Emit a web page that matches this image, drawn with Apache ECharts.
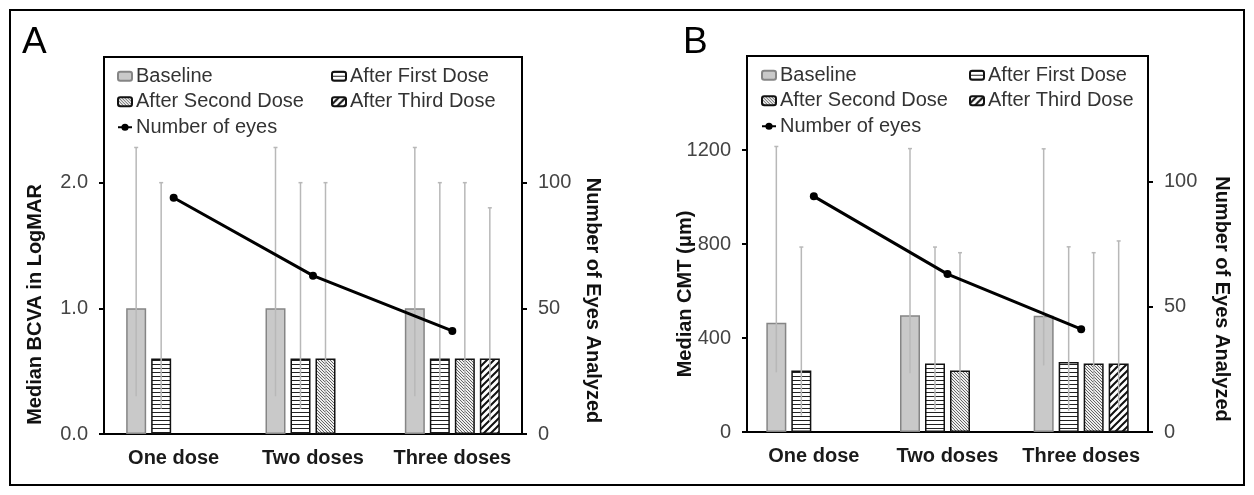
<!DOCTYPE html>
<html>
<head>
<meta charset="utf-8">
<script src="https://cdn.jsdelivr.net/npm/echarts@6/dist/echarts.min.js"></script>
<style>
  html, body { margin: 0; padding: 0; background: #fff; }
  #chart { width: 1254px; height: 495px; }
</style>
</head>
<body>
<div id="chart"></div>
<script>
// categories
var doses = ['One dose', 'Two doses', 'Three doses'];

// panel A - BCVA (logMAR) medians
var bcvaBaseline = [1.0, 1.0, 1.0];
var bcvaFirst = [0.6, 0.6, 0.6];
var bcvaSecond = [null, 0.6, 0.6];
var bcvaThird = [null, null, 0.6];
// range bars (low / high)
var bcvaBaselineLow = [0.3, 0.3, 0.3];
var bcvaBaselineHigh = [2.28, 2.28, 2.28];
var bcvaFirstLow = [0.2, 0.2, 0.2];
var bcvaFirstHigh = [2.0, 2.0, 2.0];
var bcvaSecondLow = [null, 0.15, 0.15];
var bcvaSecondHigh = [null, 2.0, 2.0];
var bcvaThirdLow = [null, null, 0.1];
var bcvaThirdHigh = [null, null, 1.8];

// panel B - CMT (um) medians
var cmtBaseline = [465, 497, 495];
var cmtFirst = [262, 292, 298];
var cmtSecond = [null, 262, 292];
var cmtThird = [null, null, 292];
var cmtBaselineLow = [254, 250, 283];
var cmtBaselineHigh = [1215, 1206, 1205];
var cmtFirstLow = [70, 90, 90];
var cmtFirstHigh = [787, 787, 788];
var cmtSecondLow = [null, 140, 140];
var cmtSecondHigh = [null, 763, 763];
var cmtThirdLow = [null, null, 100];
var cmtThirdHigh = [null, null, 813];

// number of eyes (same for both panels)
var eyesCount = [94, 63, 41];

var bcvaTicks = [0, 1, 2, 3];
var cmtTicks = [0, 400, 800, 1200, 1600];
var eyesTicks = [0, 50, 100, 150];

var FONT = '"Liberation Sans", Arial, sans-serif';

function makePattern(kind) {
  var c = document.createElement('canvas');
  var ctx;
  if (kind === 'horiz') {
    c.width = 4; c.height = 4;
    ctx = c.getContext('2d');
    ctx.fillStyle = '#fff'; ctx.fillRect(0, 0, 4, 4);
    ctx.fillStyle = '#222'; ctx.fillRect(0, 0, 4, 1);
  } else if (kind === 'fine') {
    c.width = 3; c.height = 3;
    ctx = c.getContext('2d');
    ctx.fillStyle = '#eeeeee'; ctx.fillRect(0, 0, 3, 3);
    ctx.fillStyle = '#666';
    for (var i = 0; i < 3; i++) ctx.fillRect(i, i, 1, 1);
  } else {
    c.width = 7; c.height = 7;
    ctx = c.getContext('2d');
    ctx.fillStyle = '#fff'; ctx.fillRect(0, 0, 7, 7);
    ctx.strokeStyle = '#111'; ctx.lineWidth = 2;
    ctx.beginPath();
    ctx.moveTo(-1, 8); ctx.lineTo(8, -1);
    ctx.moveTo(-1, 1); ctx.lineTo(1, -1);
    ctx.moveTo(6, 8); ctx.lineTo(8, 6);
    ctx.stroke();
  }
  return { image: c, repeat: 'repeat' };
}

var styles = [
  { name: 'Baseline', itemStyle: { color: '#c9c9c9', borderColor: '#858585', borderWidth: 1.5 } },
  { name: 'After First Dose', itemStyle: { color: makePattern('horiz'), borderColor: '#111', borderWidth: 1.5 } },
  { name: 'After Second Dose', itemStyle: { color: makePattern('fine'), borderColor: '#111', borderWidth: 1.5 } },
  { name: 'After Third Dose', itemStyle: { color: makePattern('diag'), borderColor: '#111', borderWidth: 1.5 } }
];

function rangeData(lows, highs) {
  var out = [];
  for (var k = 0; k < lows.length; k++) {
    for (var i = 0; i < doses.length; i++) {
      if (lows[k][i] == null) continue;
      out.push([i, lows[k][i], highs[k][i], k]);
    }
  }
  return out;
}

function renderRange(params, api) {
  var lo = api.coord([api.value(0), api.value(1)]);
  var hi = api.coord([api.value(0), api.value(2)]);
  // bars are 20px wide with 5px gaps, 4 per category
  var x = lo[0] + (api.value(3) - 1.5) * 25;
  var st = { stroke: '#b8b8b8', lineWidth: 1.5 };
  return {
    type: 'group',
    children: [
      { type: 'line', shape: { x1: x, y1: lo[1], x2: x, y2: hi[1] }, style: st },
      { type: 'line', shape: { x1: x - 2, y1: hi[1], x2: x + 2, y2: hi[1] }, style: st }
    ]
  };
}

function barSeries(idx, values, axisIdx) {
  return {
    name: styles[idx].name,
    type: 'bar',
    xAxisIndex: axisIdx,
    yAxisIndex: axisIdx * 2,
    data: values,
    barWidth: 20,
    barGap: '25%',
    itemStyle: styles[idx].itemStyle,
    z: 2
  };
}

function xAxisFor(gi) {
  return {
    type: 'category', gridIndex: gi, data: doses,
    axisLine: { lineStyle: { color: '#000', width: 2 } },
    axisTick: { alignWithLabel: true, length: 5, lineStyle: { color: '#000', width: 2 } },
    axisLabel: { interval: 0, hideOverlap: false, fontFamily: FONT, fontSize: 20, fontWeight: 'bold', color: '#1a1a1a', margin: 14 }
  };
}

// pad shifts the (rotated) title down along the axis, as in the source figure
function yAxisFor(gi, pos, max, interval, name, gap, rot, pad, fmt) {
  return {
    type: 'value', gridIndex: gi, position: pos, min: 0, max: max, interval: interval,
    axisLine: { show: true, lineStyle: { color: '#000', width: 2 } },
    axisTick: { show: true, length: 5, lineStyle: { color: '#000', width: 2 } },
    splitLine: { show: false },
    axisLabel: { fontFamily: FONT, fontSize: 20, color: '#444', margin: 16, showMaxLabel: false, formatter: fmt },
    name: name, nameLocation: 'middle', nameRotate: rot, nameGap: gap, nameMoveOverlap: false,
    nameTextStyle: { fontFamily: FONT, fontSize: 20, fontWeight: 'bold', color: '#111', padding: pad }
  };
}

function legendBlock(left, top, names) {
  return {
    left: left, top: top, orient: 'vertical', data: names,
    itemWidth: 14, itemHeight: 9, itemGap: 5,
    selectedMode: false,
    textStyle: { fontFamily: FONT, fontSize: 20, color: '#333', lineHeight: 20.5, padding: [0, 0, 0, -1] }
  };
}

var chart = echarts.init(document.getElementById('chart'));

var option = {
  animation: false,
  backgroundColor: '#fff',
  grid: [
    { left: 104, top: 57, width: 418, height: 377, show: true, borderColor: '#000', borderWidth: 2 },
    { left: 747, top: 56, width: 401, height: 376, show: true, borderColor: '#000', borderWidth: 2 }
  ],
  xAxis: [xAxisFor(0), xAxisFor(1)],
  yAxis: [
    yAxisFor(0, 'left', bcvaTicks[3], bcvaTicks[1], 'Median BCVA in LogMAR', 59, 90, [0, 118, 0, 0], function (v) { return v.toFixed(1); }),
    yAxisFor(0, 'right', eyesTicks[3], eyesTicks[1], 'Number of Eyes Analyzed', 61, -90, [0, 0, 0, 110]),
    yAxisFor(1, 'left', cmtTicks[4], cmtTicks[1], 'Median CMT (\u03bcm)', 52, 90, [0, 100, 0, 0], function (v) { return String(v); }),
    yAxisFor(1, 'right', eyesTicks[3], eyesTicks[1], 'Number of Eyes Analyzed', 64, -90, [0, 0, 0, 110])
  ],
  legend: [
    legendBlock(112, 61, ['Baseline', 'After Second Dose', 'Number of eyes']),
    legendBlock(326, 61, ['After First Dose', 'After Third Dose']),
    legendBlock(756, 60, ['Baseline', 'After Second Dose', 'Number of eyes']),
    legendBlock(964, 60, ['After First Dose', 'After Third Dose'])
  ],
  graphic: [
    { type: 'rect', shape: { x: 10, y: 10, width: 1234, height: 475 }, style: { fill: 'none', stroke: '#000', lineWidth: 2 } },
    { type: 'text', left: 22, top: 24, style: { text: 'A', font: '37px ' + FONT, fill: '#000' } },
    { type: 'text', left: 683, top: 24, style: { text: 'B', font: '37px ' + FONT, fill: '#000' } }
  ],
  series: [
    barSeries(0, bcvaBaseline, 0),
    barSeries(1, bcvaFirst, 0),
    barSeries(2, bcvaSecond, 0),
    barSeries(3, bcvaThird, 0),
    {
      type: 'custom', xAxisIndex: 0, yAxisIndex: 0, z: 3, silent: true,
      renderItem: renderRange,
      data: rangeData([bcvaBaselineLow, bcvaFirstLow, bcvaSecondLow, bcvaThirdLow],
                      [bcvaBaselineHigh, bcvaFirstHigh, bcvaSecondHigh, bcvaThirdHigh])
    },
    {
      name: 'Number of eyes', type: 'line', xAxisIndex: 0, yAxisIndex: 1, data: eyesCount,
      symbol: 'circle', symbolSize: 8, z: 4,
      lineStyle: { color: '#000', width: 3 }, itemStyle: { color: '#000' }
    },
    barSeries(0, cmtBaseline, 1),
    barSeries(1, cmtFirst, 1),
    barSeries(2, cmtSecond, 1),
    barSeries(3, cmtThird, 1),
    {
      type: 'custom', xAxisIndex: 1, yAxisIndex: 2, z: 3, silent: true,
      renderItem: renderRange,
      data: rangeData([cmtBaselineLow, cmtFirstLow, cmtSecondLow, cmtThirdLow],
                      [cmtBaselineHigh, cmtFirstHigh, cmtSecondHigh, cmtThirdHigh])
    },
    {
      name: 'Number of eyes', type: 'line', xAxisIndex: 1, yAxisIndex: 3, data: eyesCount,
      symbol: 'circle', symbolSize: 8, z: 4,
      lineStyle: { color: '#000', width: 3 }, itemStyle: { color: '#000' }
    }
  ]
};

chart.setOption(option);
</script>
</body>
</html>
